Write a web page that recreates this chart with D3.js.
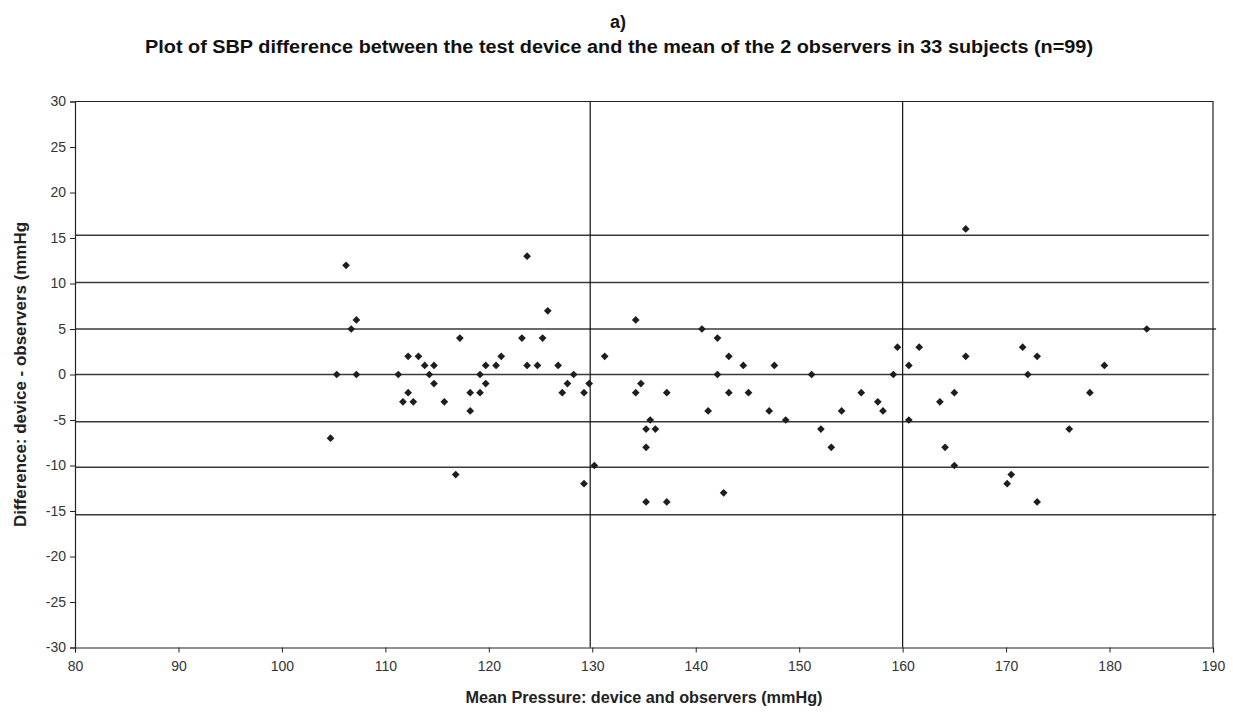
<!DOCTYPE html>
<html>
<head>
<meta charset="utf-8">
<script src="https://cdn.jsdelivr.net/npm/d3@7/dist/d3.min.js"></script>
<style>
  html, body { margin: 0; padding: 0; background: #fff; }
  svg { display: block; }
  text { font-family: "Liberation Sans", Arial, sans-serif; }
</style>
</head>
<body>
<svg id="chart" width="1233" height="715"></svg>
<script>
// Mean pressure (device and observers), mmHg
const meanPressure = [
  106.2, 107.2, 106.7, 105.3, 107.2, 104.7,
  123.7, 125.7, 134.2, 117.2, 123.2, 125.2, 112.2, 113.2, 121.2, 131.2,
  113.8, 114.7, 119.7, 120.7, 123.7, 124.7, 126.7,
  111.25, 114.25, 119.15, 128.2,
  114.7, 119.7, 127.6, 129.7, 134.7,
  112.2, 118.2, 119.15, 127.1, 129.2, 134.2, 137.2,
  111.7, 112.7, 115.7, 118.2, 135.6, 135.2, 136.1, 135.2, 130.2, 116.8, 129.2,
  140.6, 142.1, 143.2, 144.6, 147.6, 142.1, 151.2, 159.1, 159.5, 161.6, 160.6,
  143.2, 145.1, 156.0, 165.0, 157.6, 163.6, 141.2, 147.1, 154.1, 158.1,
  148.7, 160.6, 152.1, 153.1, 164.1, 165.0, 142.7,
  166.1, 183.6, 166.1, 171.6, 173.0, 179.5, 172.1, 178.1, 176.1, 170.5, 170.1, 173.0,
  135.2, 137.2
];
// Difference: device - observers, mmHg
const difference = [
  12, 6, 5, 0, 0, -7,
  13, 7, 6, 4, 4, 4, 2, 2, 2, 2,
  1, 1, 1, 1, 1, 1, 1,
  0, 0, 0, 0,
  -1, -1, -1, -1, -1,
  -2, -2, -2, -2, -2, -2, -2,
  -3, -3, -3, -4, -5, -6, -6, -8, -10, -11, -12,
  5, 4, 2, 1, 1, 0, 0, 0, 3, 3, 1,
  -2, -2, -2, -2, -3, -3, -4, -4, -4, -4,
  -5, -5, -6, -8, -8, -10, -13,
  16, 5, 2, 3, 2, 1, 0, -2, -6, -11, -12, -14,
  -14, -14
];

// Horizontal reference lines (mean and ±1, ±2, ±3 SD bands) and where each one ends
const refLevels = [15.3, 10.1, 5.0, 0, -5.2, -10.2, -15.4];
const refLineEnd = [189.6, 189.6, 190.3, 189.6, 189.6, 189.6, 190.3];
// Vertical divider lines on the pressure axis
const pressureDividers = [129.8, 160];

const xTicks = [80, 90, 100, 110, 120, 130, 140, 150, 160, 170, 180, 190];
const yTicks = [30, 25, 20, 15, 10, 5, 0, -5, -10, -15, -20, -25, -30];

const titleTop = "a)";
const titleMain = "Plot of SBP difference between the test device and the mean of  the 2 observers in 33 subjects (n=99)";
const xTitle = "Mean Pressure: device and observers (mmHg)";
const yTitle = "Difference: device - observers (mmHg";

const svg = d3.select("#chart");
const plot = { left: 75, right: 1213, top: 101.5, bottom: 647.5 };

const x = d3.scaleLinear().domain([80, 190]).range([plot.left, plot.right]);
const y = d3.scaleLinear().domain([-30, 30]).range([plot.bottom, plot.top]);

// Stretch/condense a text element to a given rendered length
function fitLength(sel, len) {
  sel.attr("textLength", len).attr("lengthAdjust", "spacingAndGlyphs");
}
// Plain integer labels with an ASCII hyphen for negatives
const intLabel = d => String(d);

// Titles
svg.append("text")
  .attr("x", 618).attr("y", 28)
  .attr("text-anchor", "middle")
  .style("font-size", "18px").style("font-weight", "bold").style("fill", "#111")
  .text(titleTop);
svg.append("text")
  .attr("x", 619).attr("y", 53)
  .attr("text-anchor", "middle")
  .style("font-size", "18px").style("font-weight", "bold").style("fill", "#111")
  .text(titleMain)
  .call(fitLength, 948);

// Reference lines
svg.append("g").selectAll("line").data(refLevels).join("line")
  .attr("x1", plot.left).attr("x2", (d, i) => x(refLineEnd[i]))
  .attr("y1", d => y(d)).attr("y2", d => y(d))
  .attr("stroke", "#3a3a3a").attr("stroke-width", 1.5);

svg.append("g").selectAll("line").data(pressureDividers).join("line")
  .attr("x1", d => x(d)).attr("x2", d => x(d))
  .attr("y1", plot.top).attr("y2", plot.bottom)
  .attr("stroke", "#111").attr("stroke-width", 1.2);

// Plot frame top and right
svg.append("path")
  .attr("d", `M${plot.left},${plot.top}H${plot.right}V${plot.bottom}`)
  .attr("fill", "none").attr("stroke", "#222").attr("stroke-width", 1.2);

// Axes
const xAxis = d3.axisBottom(x).tickValues(xTicks).tickSize(5).tickPadding(9).tickFormat(intLabel);
const yAxis = d3.axisLeft(y).tickValues(yTicks).tickSize(5).tickPadding(4).tickFormat(intLabel);

const gx = svg.append("g").attr("transform", `translate(0,${plot.bottom})`).call(xAxis);
const gy = svg.append("g").attr("transform", `translate(${plot.left},0)`).call(yAxis);
[gx, gy].forEach(g => {
  g.select(".domain").attr("stroke", "#222").attr("stroke-width", 1.2);
  g.selectAll(".tick line").attr("stroke", "#222");
  g.selectAll(".tick text")
    .style("font-family", "'Liberation Sans', Arial, sans-serif")
    .style("font-size", "14px").style("fill", "#333");
});

// Axis titles
svg.append("text")
  .attr("x", x(135)).attr("y", 703)
  .attr("text-anchor", "middle")
  .style("font-size", "16px").style("font-weight", "bold").style("fill", "#222")
  .text(xTitle)
  .call(fitLength, 357);
svg.append("text")
  .attr("transform", `translate(26,${(plot.top + plot.bottom) / 2}) rotate(-90)`)
  .attr("text-anchor", "middle")
  .style("font-size", "16px").style("font-weight", "bold").style("fill", "#222")
  .text(yTitle)
  .call(fitLength, 305);

// Data points as diamonds
const pts = meanPressure.map((m, i) => ({ m, d: difference[i] }));
svg.append("g").selectAll("path").data(pts).join("path")
  .attr("d", d3.symbol().type(d3.symbolSquare).size(30))
  .attr("transform", d => `translate(${x(d.m)},${y(d.d)}) rotate(45)`)
  .attr("fill", "#1e1e1e");
</script>
</body>
</html>
